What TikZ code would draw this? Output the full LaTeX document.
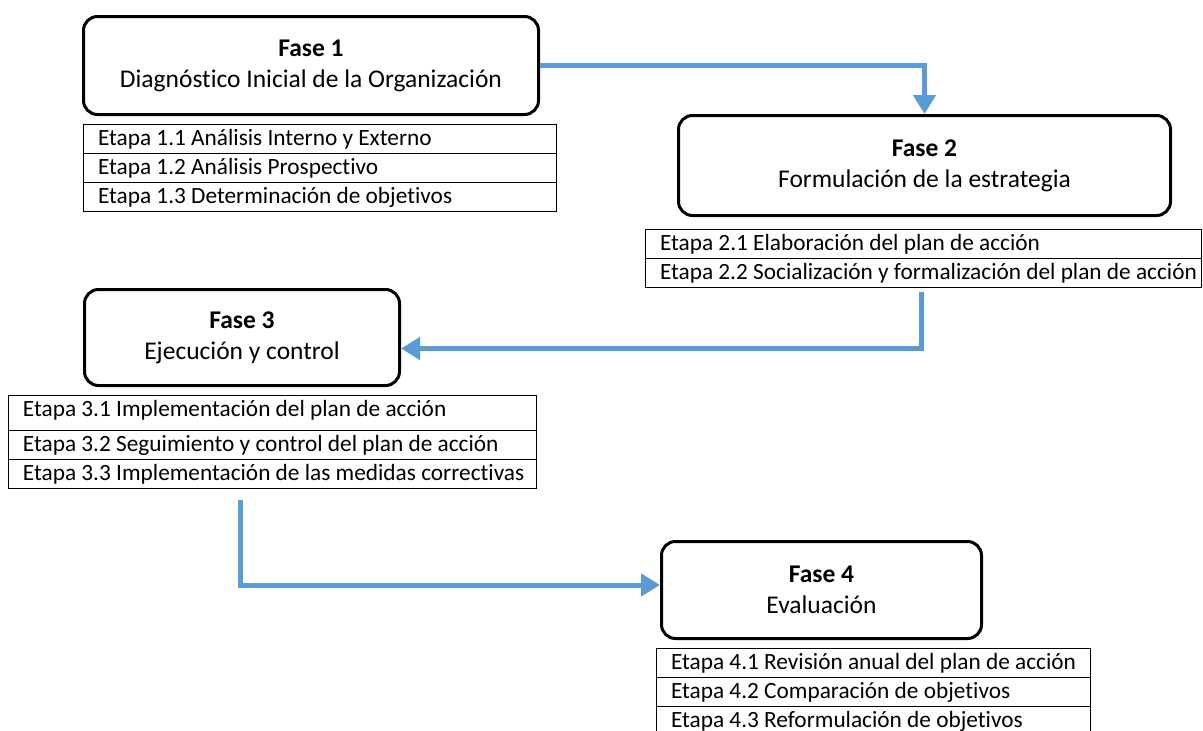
\documentclass[tikz,border=0pt]{standalone}
\usepackage{fontspec}
\setmainfont{Carlito}[Ligatures=CommonOff]
\usetikzlibrary{arrows.meta,positioning}
\definecolor{azul}{HTML}{5B9BD5}
\newcommand{\fasefont}{\fontsize{25.5}{31}\selectfont}
\newcommand{\etapafont}{\fontsize{23.3}{28}\selectfont}
\tikzset{
  fase/.style={draw,line width=3pt,rounded corners=14pt,align=center,font=\fasefont,
    anchor=north west,inner sep=0pt},
  etapa/.style={draw,line width=1pt,anchor=north west,inner xsep=4pt,inner ysep=0pt,
    outer sep=0pt,minimum height=29pt,text width=#1,align=left,font=\etapafont,
    text height=21pt,text depth=8pt,
    execute at begin node={\spaceskip=0pt\xspaceskip=0pt\hspace*{11pt}}},
  flecha/.style={-{Triangle[length=19pt,width=22pt]},azul,line width=5pt},
}
\begin{document}
\begin{tikzpicture}[x=1pt,y=-1pt]
  \useasboundingbox (0,0) rectangle (1203,731);
  \clip (0,0) rectangle (1203,731);
  % fases
  \node[fase,minimum width=455pt,minimum height=98pt] (f1) at (82,15)
    {\textbf{Fase 1}\\Diagnóstico Inicial de la Organización};
  \node[fase,minimum width=492pt,minimum height=100pt] (f2) at (677,114)
    {\textbf{Fase 2}\\Formulación de la estrategia};
  \node[fase,minimum width=315pt,minimum height=96pt] (f3) at (83,288)
    {\textbf{Fase 3}\\Ejecución y control};
  \node[fase,minimum width=320pt,minimum height=97pt] (f4) at (660,540)
    {\textbf{Fase 4}\\Evaluación};
  % etapas
  \node[etapa=465pt] (e11) at (83,124) {Etapa 1.1 Análisis Interno y Externo};
  \node[etapa=465pt,below=0pt of e11] (e12) {Etapa 1.2 Análisis Prospectivo};
  \node[etapa=465pt,below=0pt of e12] (e13) {Etapa 1.3 Determinación de objetivos};
  \node[etapa=548pt] (e21) at (645,229) {Etapa 2.1 Elaboración del plan de acción};
  \node[etapa=548pt,below=0pt of e21] (e22) {Etapa 2.2 Socialización y formalización del plan de acción};
  \node[etapa=520pt,minimum height=35pt,text depth=14pt] (e31) at (8,395) {Etapa 3.1 Implementación del plan de acción};
  \node[etapa=520pt,below=0pt of e31] (e32) {Etapa 3.2 Seguimiento y control del plan de acción};
  \node[etapa=520pt,below=0pt of e32] (e33) {Etapa 3.3 Implementación de las medidas correctivas};
  \node[etapa=426pt] (e41) at (656,648) {Etapa 4.1 Revisión anual del plan de acción};
  \node[etapa=426pt,below=0pt of e41] (e42) {Etapa 4.2 Comparación de objetivos};
  \node[etapa=426pt,below=0pt of e42] (e43) {Etapa 4.3 Reformulación de objetivos};
  % flechas
  \coordinate (a2) at (921,292);
  \coordinate (a3) at (240,500);
  \draw[flecha] (f1.east) -| (f2.north);
  \draw[flecha] (a2) |- ([yshift=-11pt]f3.east);
  \draw[flecha] (a3) |- ([yshift=5pt]f4.west);
\end{tikzpicture}
\end{document}
